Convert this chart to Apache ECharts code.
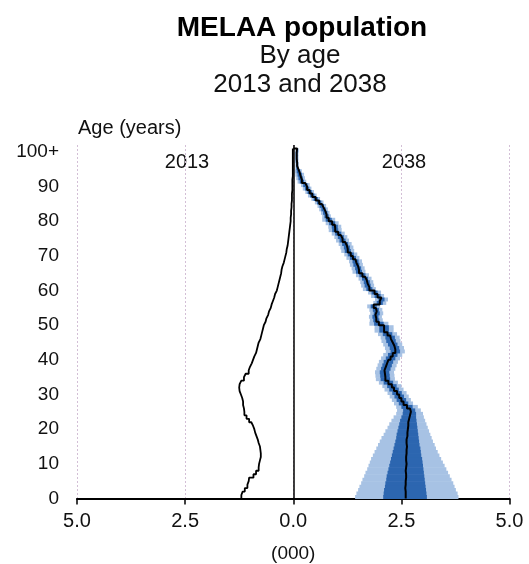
<!DOCTYPE html>
<html><head><meta charset="utf-8">
<script src="https://cdn.jsdelivr.net/npm/echarts@6/dist/echarts.min.js"></script>
<style>html,body{margin:0;padding:0;background:#fff}#c{width:529px;height:564px}</style>
</head><body><div id="c"></div>
<script>
// Age bands 0..100 (100 = "100+")
const ages = [0,1,2,3,4,5,6,7,8,9,10,11,12,13,14,15,16,17,18,19,20,21,22,23,24,25,26,27,28,29,30,31,32,33,34,35,36,37,38,39,40,41,42,43,44,45,46,47,48,49,50,51,52,53,54,55,56,57,58,59,60,61,62,63,64,65,66,67,68,69,70,71,72,73,74,75,76,77,78,79,80,81,82,83,84,85,86,87,88,89,90,91,92,93,94,95,96,97,98,99,100];

const yTickValues = [0,10,20,30,40,50,60,70,80,90,100];
const yTickLabels = ['0','10','20','30','40','50','60','70','80','90','100+'];
const xTickValues = [-5,-2.5,0,2.5,5];
const xTickLabels = ['5.0','2.5','0.0','2.5','5.0'];

// 2013 population (000), drawn to the left (negative)
const pop2013 = [-1.20,-1.17,-1.12,-1.06,-1.03,-1.02,-0.92,-0.86,-0.80,-0.79,
 -0.77,-0.75,-0.75,-0.76,-0.77,-0.80,-0.82,-0.85,-0.88,-0.90,
 -0.93,-0.97,-1.02,-1.08,-1.13,-1.14,-1.16,-1.16,-1.18,-1.21,
 -1.24,-1.25,-1.24,-1.20,-1.14,-1.10,-1.03,-1.00,-0.96,-0.93,
 -0.90,-0.86,-0.84,-0.82,-0.80,-0.76,-0.74,-0.72,-0.70,-0.68,
 -0.64,-0.62,-0.58,-0.56,-0.52,-0.50,-0.47,-0.44,-0.42,-0.38,
 -0.36,-0.34,-0.32,-0.30,-0.28,-0.27,-0.25,-0.22,-0.20,-0.18,
 -0.16,-0.15,-0.13,-0.12,-0.11,-0.10,-0.09,-0.08,-0.07,-0.06,
 -0.06,-0.05,-0.05,-0.04,-0.04,-0.03,-0.03,-0.03,-0.02,-0.02,
 -0.02,-0.02,-0.01,-0.01,-0.01,-0.01,-0.01,-0.01,-0.01,-0.01,-0.01];

// 2038 projection: median
const med2038 = [2.60,2.60,2.59,2.60,2.60,2.61,2.61,2.60,2.61,2.62,
 2.61,2.61,2.62,2.62,2.63,2.62,2.62,2.64,2.64,2.65,
 2.66,2.66,2.68,2.70,2.72,2.70,2.63,2.55,2.50,2.45,
 2.40,2.33,2.28,2.20,2.13,2.12,2.11,2.14,2.17,2.20,
 2.25,2.30,2.36,2.34,2.30,2.26,2.24,2.18,2.10,2.10,
 1.98,1.92,1.90,1.93,1.91,1.86,2.00,2.04,1.95,1.88,
 1.76,1.72,1.70,1.66,1.60,1.52,1.50,1.46,1.44,1.38,
 1.33,1.26,1.24,1.20,1.14,1.10,1.04,0.97,0.96,0.90,
 0.82,0.77,0.74,0.70,0.66,0.60,0.52,0.44,0.38,0.32,
 0.28,0.20,0.17,0.15,0.12,0.09,0.09,0.08,0.08,0.08,0.09];

// 2038 projection: 90% interval (light)
const lo90 = [1.43,1.46,1.50,1.53,1.57,1.60,1.64,1.67,1.71,1.74,
 1.77,1.80,1.84,1.88,1.92,1.96,2.00,2.04,2.09,2.13,
 2.18,2.22,2.27,2.32,2.38,2.40,2.38,2.33,2.28,2.23,
 2.18,2.11,2.06,1.98,1.91,1.90,1.89,1.92,1.95,1.98,
 2.03,2.08,2.14,2.12,2.08,2.04,2.02,1.96,1.88,1.88,
 1.76,1.77,1.75,1.78,1.76,1.71,1.85,1.89,1.80,1.73,
 1.61,1.57,1.55,1.51,1.45,1.37,1.35,1.31,1.29,1.23,
 1.18,1.11,1.09,1.05,0.99,0.95,0.89,0.82,0.81,0.75,
 0.67,0.67,0.64,0.60,0.56,0.50,0.42,0.34,0.28,0.22,
 0.18,0.10,0.07,0.05,0.04,0.05,0.05,0.04,0.04,0.04,0.05];
const hi90 = [3.82,3.80,3.76,3.73,3.70,3.66,3.62,3.58,3.54,3.50,
 3.46,3.42,3.38,3.34,3.30,3.27,3.23,3.20,3.17,3.14,
 3.11,3.08,3.05,3.02,3.00,2.95,2.88,2.77,2.72,2.67,
 2.62,2.55,2.50,2.42,2.35,2.34,2.33,2.36,2.39,2.42,
 2.47,2.52,2.58,2.56,2.52,2.48,2.46,2.40,2.32,2.32,
 2.20,2.07,2.05,2.08,2.06,2.01,2.15,2.19,2.10,2.03,
 1.91,1.87,1.85,1.81,1.75,1.67,1.65,1.61,1.59,1.53,
 1.48,1.41,1.39,1.35,1.29,1.25,1.19,1.12,1.11,1.05,
 0.97,0.87,0.84,0.80,0.76,0.70,0.62,0.54,0.48,0.42,
 0.38,0.30,0.27,0.25,0.20,0.13,0.13,0.12,0.12,0.12,0.13];

// 2038 projection: 50% interval (dark)
const lo50 = [2.08,2.09,2.10,2.12,2.13,2.15,2.16,2.18,2.20,2.22,
 2.24,2.26,2.28,2.30,2.32,2.34,2.36,2.38,2.39,2.41,
 2.43,2.45,2.47,2.50,2.53,2.54,2.50,2.44,2.39,2.34,
 2.29,2.22,2.17,2.09,2.02,2.01,2.00,2.03,2.06,2.09,
 2.14,2.19,2.25,2.23,2.19,2.15,2.13,2.07,1.99,1.99,
 1.87,1.85,1.83,1.86,1.84,1.79,1.93,1.97,1.88,1.81,
 1.69,1.65,1.63,1.59,1.53,1.45,1.43,1.39,1.37,1.31,
 1.26,1.19,1.17,1.13,1.07,1.03,0.97,0.90,0.89,0.83,
 0.75,0.72,0.69,0.65,0.61,0.55,0.47,0.39,0.33,0.27,
 0.23,0.15,0.12,0.10,0.08,0.07,0.07,0.06,0.06,0.06,0.07];
const hi50 = [3.09,3.08,3.07,3.06,3.05,3.04,3.03,3.02,3.01,3.00,
 2.99,2.98,2.96,2.95,2.94,2.92,2.91,2.90,2.89,2.88,
 2.87,2.86,2.85,2.84,2.84,2.82,2.76,2.66,2.61,2.56,
 2.51,2.44,2.39,2.31,2.24,2.23,2.22,2.25,2.28,2.31,
 2.36,2.41,2.47,2.45,2.41,2.37,2.35,2.29,2.21,2.21,
 2.09,1.99,1.97,2.00,1.98,1.93,2.07,2.11,2.02,1.95,
 1.83,1.79,1.77,1.73,1.67,1.59,1.57,1.53,1.51,1.45,
 1.40,1.33,1.31,1.27,1.21,1.17,1.11,1.04,1.03,0.97,
 0.89,0.82,0.79,0.75,0.71,0.65,0.57,0.49,0.43,0.37,
 0.33,0.25,0.22,0.20,0.16,0.11,0.11,0.10,0.10,0.10,0.11];

const FONT = '"Liberation Sans", Arial, sans-serif';
const TXT = '#111';

function stepPoints(vals) {
  const pts = [];
  ages.forEach((a, i) => { pts.push([vals[i], a]); pts.push([vals[i], a + 1]); });
  pts.push([0, ages[ages.length - 1] + 1]);
  return pts;
}

function band(lo, hi, color, z) {
  return {
    type: 'custom', z: z, silent: true,
    data: ages.map((a, i) => [lo[i], hi[i], a]),
    encode: { x: [0, 1], y: 2 },
    renderItem: function (params, api) {
      const p1 = api.coord([api.value(0), api.value(2) + 1]);
      const p2 = api.coord([api.value(1), api.value(2)]);
      return { type: 'rect',
        shape: { x: p1[0], y: p1[1], width: p2[0] - p1[0], height: p2[1] - p1[1] + 0.5 },
        style: { fill: color } };
    }
  };
}

const chart = echarts.init(document.getElementById('c'), null, { renderer: 'canvas' });
chart.setOption({
  animation: false,
  backgroundColor: '#fff',
  textStyle: { fontFamily: FONT, color: TXT },
  grid: { left: 77, right: 19.5, top: 145, bottom: 65.5, containLabel: false, outerBoundsMode: 'none' },
  xAxis: {
    type: 'value', min: -5, max: 5, interval: 2.5,
    name: '(000)', nameLocation: 'middle', nameGap: 46,
    nameTextStyle: { fontSize: 19, color: TXT, fontFamily: FONT },
    axisLine: { show: true, lineStyle: { color: '#000', width: 2 } },
    axisTick: { show: true, length: 6, lineStyle: { color: '#000', width: 1.5 } },
    axisLabel: { fontSize: 20, color: TXT, fontFamily: FONT, margin: 13,
      formatter: v => { const i = xTickValues.indexOf(v); return i >= 0 ? xTickLabels[i] : ''; } },
    splitLine: { show: true, lineStyle: { color: '#d3bfd6', type: [2, 2], width: 1 } }
  },
  yAxis: {
    type: 'value', min: 0, max: 102, interval: 10,
    axisLine: { show: false }, axisTick: { show: false }, splitLine: { show: false },
    axisLabel: { fontSize: 19, color: TXT, fontFamily: FONT, margin: 18, showMaxLabel: true,
      formatter: v => { const i = yTickValues.indexOf(v); return i >= 0 ? yTickLabels[i] : ''; } }
  },
  graphic: [
    { type: 'text', x: 302, y: 28, style: { text: 'MELAA population', font: 'bold 28px ' + FONT, fill: '#000', align: 'center', verticalAlign: 'middle' } },
    { type: 'text', x: 300, y: 56, style: { text: 'By age', font: '26px ' + FONT, fill: TXT, align: 'center', verticalAlign: 'middle' } },
    { type: 'text', x: 300, y: 85, style: { text: '2013 and 2038', font: '26px ' + FONT, fill: TXT, align: 'center', verticalAlign: 'middle' } },
    { type: 'text', x: 78, y: 128, style: { text: 'Age (years)', font: '20px ' + FONT, fill: TXT, align: 'left', verticalAlign: 'middle' } },
    { type: 'text', x: 187, y: 162, style: { text: '2013', font: '20px ' + FONT, fill: TXT, align: 'center', verticalAlign: 'middle' } },
    { type: 'text', x: 404, y: 162, style: { text: '2038', font: '20px ' + FONT, fill: TXT, align: 'center', verticalAlign: 'middle' } }
  ],
  series: [
    band(lo90, hi90, '#a7c2e4', 1),
    band(lo50, hi50, '#2c66b0', 2),
    { type: 'line', name: '2038', z: 4, data: stepPoints(med2038), showSymbol: false, symbol: 'none',
      lineStyle: { color: '#000', width: 2 }, silent: true },
    { type: 'line', name: '2013', z: 4, data: stepPoints(pop2013), showSymbol: false, symbol: 'none',
      lineStyle: { color: '#000', width: 1.8 }, silent: true,
      markLine: { silent: true, symbol: 'none', label: { show: false },
        lineStyle: { color: '#000', width: 1.5, type: 'solid' }, data: [{ xAxis: 0 }] } }
  ]
});
</script></body></html>
